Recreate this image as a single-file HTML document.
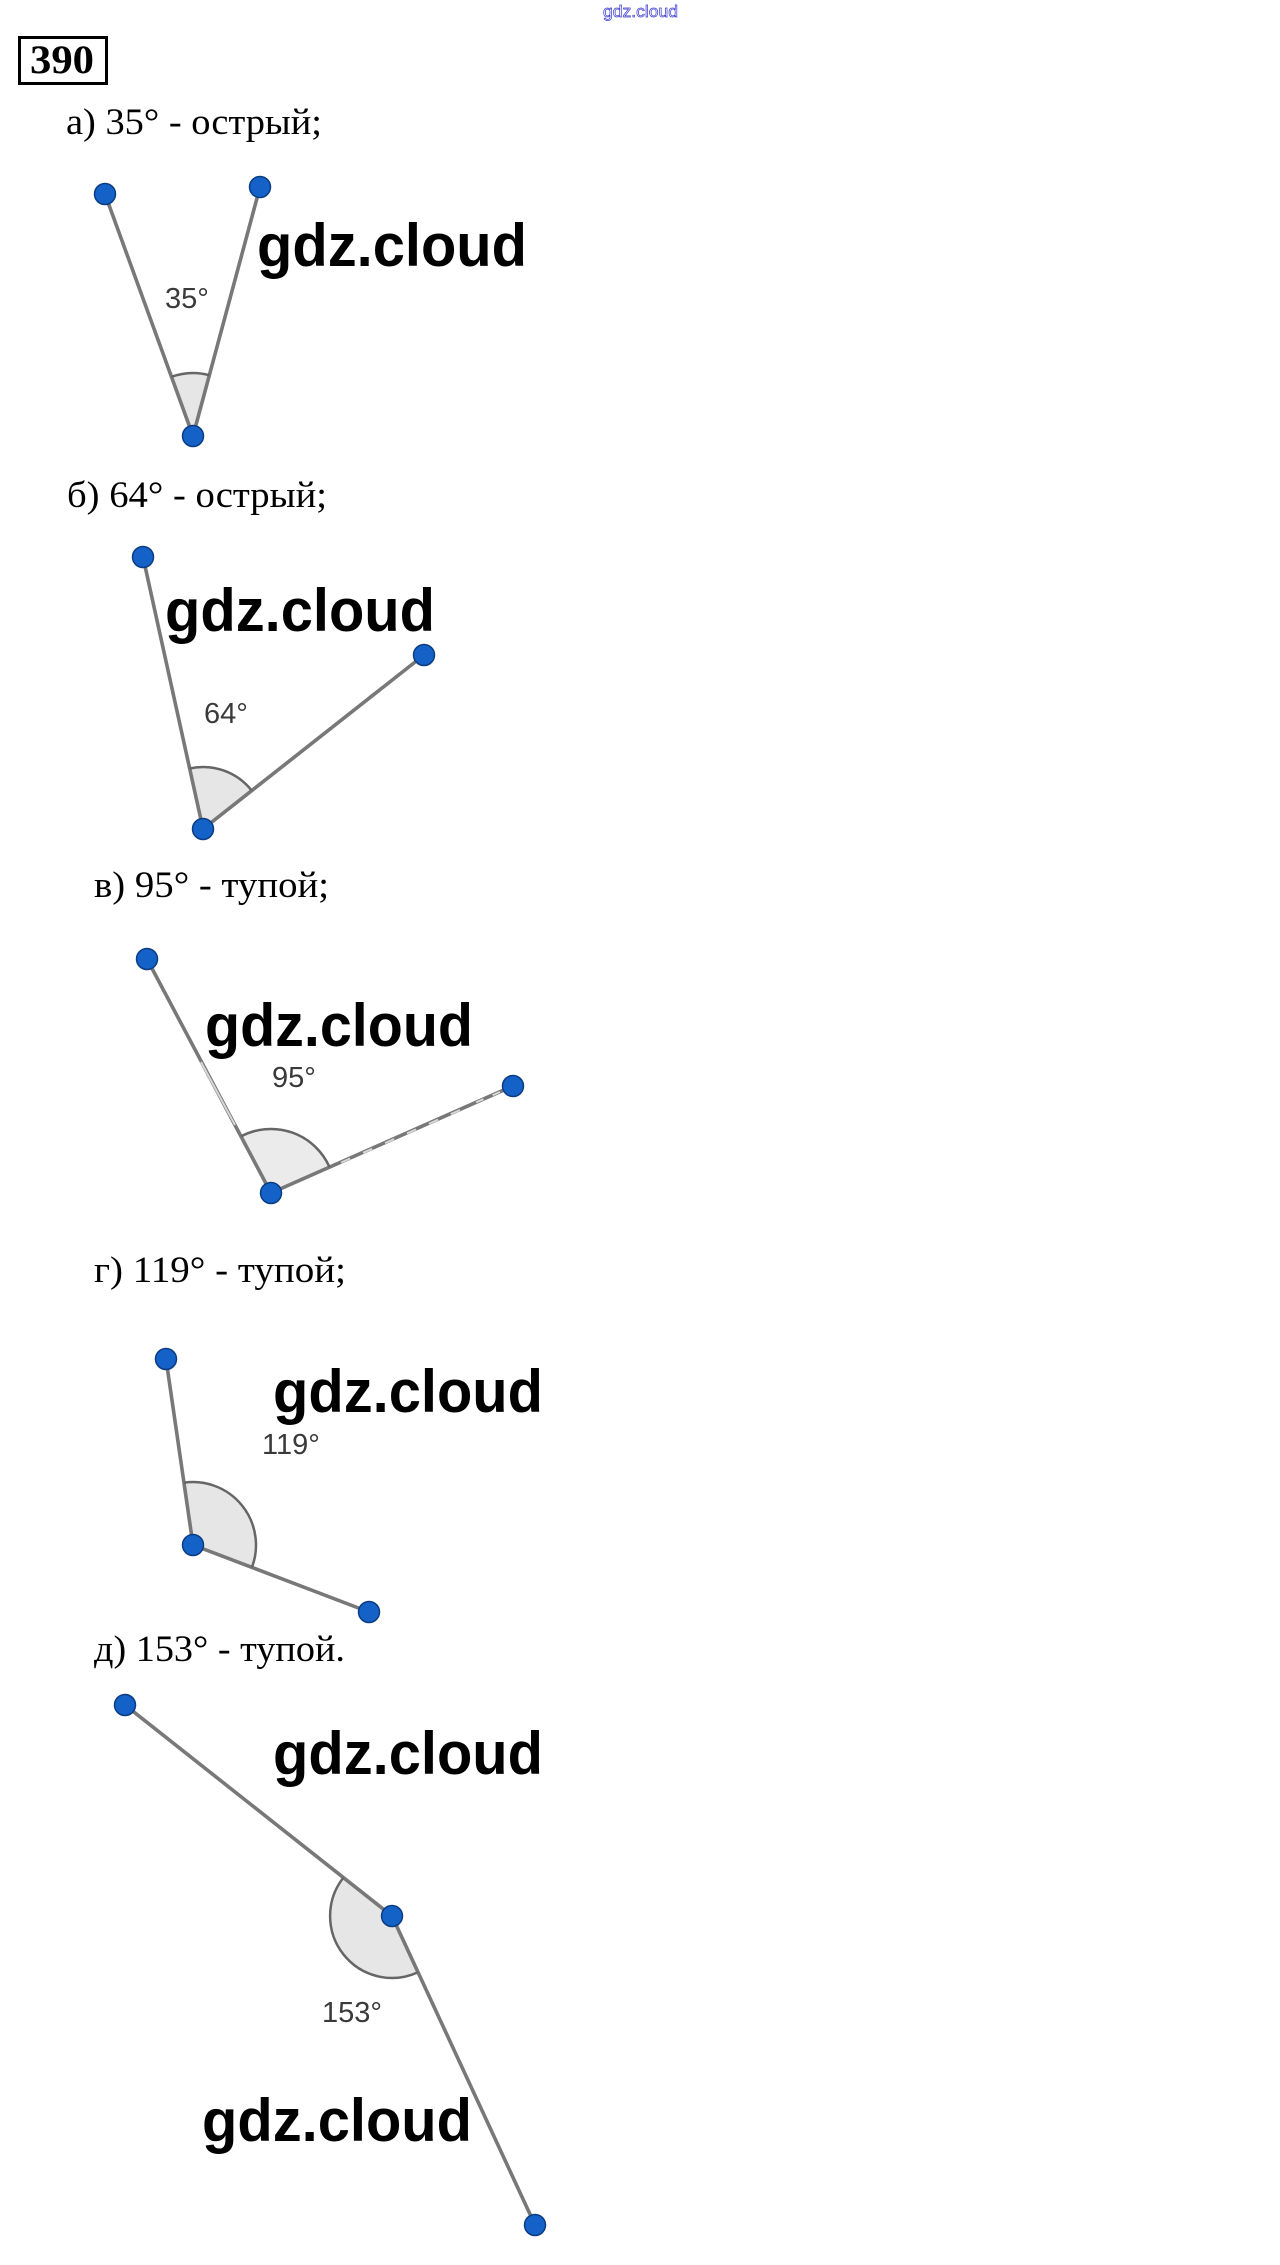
<!DOCTYPE html>
<html><head><meta charset="utf-8">
<style>
html,body{margin:0;padding:0;background:#fff;}
svg{display:block;}
</style></head>
<body>
<svg width="1280" height="2265" viewBox="0 0 1280 2265" xmlns="http://www.w3.org/2000/svg">
<rect width="1280" height="2265" fill="#fff"/>
<!-- top watermark -->
<text x="603" y="17" font-family="Liberation Sans, sans-serif" font-size="17" fill="#ffffff" stroke="#3a3ad0" stroke-width="0.7" textLength="75" lengthAdjust="spacingAndGlyphs">gdz.cloud</text>

<!-- 390 box -->
<rect x="19.5" y="37.5" width="87" height="46" fill="none" stroke="#000" stroke-width="3"/>
<text x="30" y="73" font-family="Liberation Serif, serif" font-weight="bold" font-size="40" fill="#000" textLength="64" lengthAdjust="spacingAndGlyphs">390</text>

<g font-family="Liberation Serif, serif" font-size="37" fill="#000">
<text x="66" y="134" textLength="256" lengthAdjust="spacingAndGlyphs">а) 35° - острый;</text>
<text x="67" y="507" textLength="260" lengthAdjust="spacingAndGlyphs">б) 64° - острый;</text>
<text x="94" y="897" textLength="235" lengthAdjust="spacingAndGlyphs">в) 95° - тупой;</text>
<text x="94" y="1282" textLength="252" lengthAdjust="spacingAndGlyphs">г) 119° - тупой;</text>
<text x="94" y="1661" textLength="251" lengthAdjust="spacingAndGlyphs">д) 153° - тупой.</text>
</g>

<!-- sectors -->
<g fill="#e6e6e6" stroke="none">
<path d="M193 436 L171.5 376.8 A63 63 0 0 1 209.4 375.2 Z"/>
<path d="M203 829 L189.6 768.5 A62 62 0 0 1 251.7 790.6 Z"/>
<path d="M271 1193 L241 1136.4 A64 64 0 0 1 329.5 1167.1 Z" fill="#ebebeb"/>
<path d="M193 1545 L184 1482.7 A63 63 0 0 1 251.9 1567.4 Z"/>
<path d="M392 1916 L343.4 1877.6 A62 62 0 0 0 418 1972.3 Z"/>
</g>

<!-- segments -->
<g stroke="#787878" stroke-width="3.6" stroke-linecap="round" fill="none">
<line x1="105" y1="194" x2="193" y2="436"/>
<line x1="260" y1="187" x2="193" y2="436"/>
<line x1="143" y1="557" x2="203" y2="829"/>
<line x1="424" y1="655" x2="203" y2="829"/>
<line x1="147" y1="959" x2="271" y2="1193"/>
<line x1="513" y1="1086" x2="271" y2="1193"/>
<line x1="166" y1="1359" x2="193" y2="1545"/>
<line x1="369" y1="1612" x2="193" y2="1545"/>
<line x1="125" y1="1705" x2="392" y2="1916"/>
<line x1="535" y1="2225" x2="392" y2="1916"/>
</g>
<!-- artifacts on c -->
<g stroke="#d6d6d6" stroke-width="2" fill="none">
<line x1="201" y1="1062" x2="235" y2="1125"/>
<line x1="500" y1="1092" x2="470" y2="1105" stroke-dasharray="8 10"/>
<line x1="460" y1="1110" x2="340" y2="1163" stroke-dasharray="10 14"/>
</g>

<!-- arcs -->
<g stroke="#666" stroke-width="2.5" fill="none">
<path d="M171.5 376.8 A63 63 0 0 1 209.4 375.2"/>
<path d="M189.6 768.5 A62 62 0 0 1 251.7 790.6"/>
<path d="M241 1136.4 A64 64 0 0 1 329.5 1167.1"/>
<path d="M184 1482.7 A63 63 0 0 1 251.9 1567.4"/>
<path d="M343.4 1877.6 A62 62 0 0 0 418 1972.3"/>
</g>

<!-- angle labels -->
<g font-family="Liberation Sans, sans-serif" font-size="29" fill="#3a3a3a">
<text x="165" y="308">35°</text>
<text x="204" y="723">64°</text>
<text x="272" y="1087">95°</text>
<text x="262" y="1454">119°</text>
<text x="322" y="2022">153°</text>
</g>

<!-- points -->
<g fill="#1462c8" stroke="#0b3c82" stroke-width="1.5">
<circle cx="105" cy="194" r="10.5"/>
<circle cx="260" cy="187" r="10.5"/>
<circle cx="193" cy="436" r="10.5"/>
<circle cx="143" cy="557" r="10.5"/>
<circle cx="424" cy="655" r="10.5"/>
<circle cx="203" cy="829" r="10.5"/>
<circle cx="147" cy="959" r="10.5"/>
<circle cx="513" cy="1086" r="10.5"/>
<circle cx="271" cy="1193" r="10.5"/>
<circle cx="166" cy="1359" r="10.5"/>
<circle cx="193" cy="1545" r="10.5"/>
<circle cx="369" cy="1612" r="10.5"/>
<circle cx="125" cy="1705" r="10.5"/>
<circle cx="392" cy="1916" r="10.5"/>
<circle cx="535" cy="2225" r="10.5"/>
</g>

<!-- watermarks -->
<g font-family="Liberation Sans, sans-serif" font-weight="bold" font-size="60" fill="#000">
<text x="257" y="266" textLength="270" lengthAdjust="spacingAndGlyphs">gdz.cloud</text>
<text x="165" y="631" textLength="270" lengthAdjust="spacingAndGlyphs">gdz.cloud</text>
<text x="205" y="1046" textLength="268" lengthAdjust="spacingAndGlyphs">gdz.cloud</text>
<text x="273" y="1412" textLength="270" lengthAdjust="spacingAndGlyphs">gdz.cloud</text>
<text x="273" y="1774" textLength="270" lengthAdjust="spacingAndGlyphs">gdz.cloud</text>
<text x="202" y="2141" textLength="270" lengthAdjust="spacingAndGlyphs">gdz.cloud</text>
</g>
</svg>
</body></html>
